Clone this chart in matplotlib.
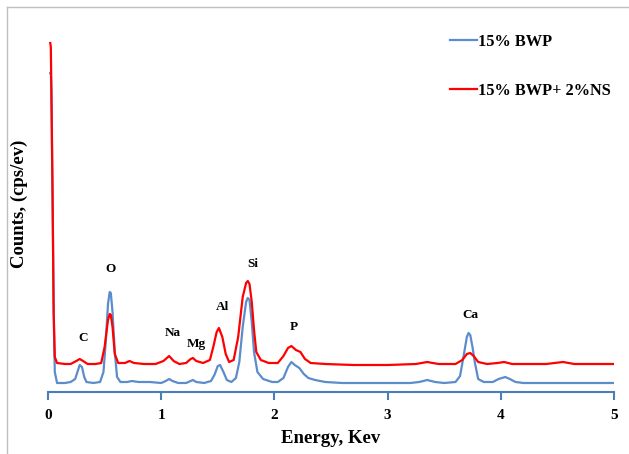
import matplotlib
matplotlib.use("Agg")
import matplotlib.pyplot as plt
from matplotlib.lines import Line2D

# EDS spectra (energy in keV, counts in arbitrary units)
blue_x = [0.02, 0.025, 0.03, 0.04, 0.05, 0.06, 0.08, 0.15, 0.2, 0.24, 0.26, 0.28, 0.30, 0.32, 0.34,
          0.4, 0.46, 0.49, 0.51, 0.53, 0.545, 0.555, 0.57, 0.59, 0.61, 0.64, 0.7, 0.74, 0.8, 0.9,
          1.0, 1.04, 1.07, 1.1, 1.15, 1.22, 1.26, 1.28, 1.31, 1.38, 1.44, 1.47, 1.50, 1.52, 1.55,
          1.58, 1.62, 1.66, 1.69, 1.72, 1.75, 1.765, 1.78, 1.80, 1.82, 1.85, 1.9, 1.98, 2.03, 2.08,
          2.12, 2.15, 2.18, 2.22, 2.26, 2.3, 2.36, 2.45, 2.6, 2.8, 3.0, 3.2, 3.28, 3.35, 3.42,
          3.5, 3.6, 3.64, 3.67, 3.70, 3.715, 3.73, 3.75, 3.77, 3.8, 3.85, 3.93, 3.98, 4.04, 4.08,
          4.13, 4.2, 4.5, 4.8, 5.0]
blue_y = [319, 319, 300, 200, 80, 20, 9, 9, 10, 13, 20, 27, 25, 15, 10,
          9, 10, 20, 50, 88, 100, 99, 80, 40, 15, 10, 10, 11, 10, 10,
          9, 11, 13, 11, 9, 9, 11, 12, 10, 9, 11, 17, 26, 27, 20,
          12, 10, 14, 30, 65, 90, 94, 92, 70, 40, 20, 13, 10, 10, 14,
          25, 30, 27, 24, 18, 14, 12, 10, 9, 9, 9, 9, 10, 12, 10,
          9, 10, 16, 35, 55, 59, 57, 45, 30, 13, 10, 10, 13, 15, 13,
          10, 9, 9, 9, 9]

red_x = [0.02, 0.025, 0.03, 0.04, 0.05, 0.06, 0.08, 0.15, 0.2, 0.25, 0.28, 0.31, 0.35, 0.42, 0.47,
         0.5, 0.53, 0.545, 0.555, 0.57, 0.59, 0.62, 0.68, 0.72, 0.76, 0.85, 0.95, 1.02, 1.07, 1.11,
         1.16, 1.22, 1.26, 1.28, 1.31, 1.37, 1.43, 1.46, 1.49, 1.51, 1.54, 1.57, 1.6, 1.64, 1.68,
         1.72, 1.75, 1.765, 1.78, 1.80, 1.82, 1.84, 1.88, 1.95, 2.03, 2.08, 2.12, 2.15, 2.19, 2.23,
         2.27, 2.32, 2.45, 2.7, 3.0, 3.25, 3.35, 3.45, 3.6, 3.66, 3.7, 3.73, 3.76, 3.8, 3.88,
         3.97, 4.03, 4.1, 4.4, 4.55, 4.65, 5.0]
red_y = [349, 345, 300, 200, 80, 35, 29, 28, 28, 31, 33, 31, 28, 28, 29,
         45, 72, 78, 77, 65, 38, 29, 29, 31, 29, 28, 28, 31, 36, 31,
         28, 29, 33, 34, 31, 29, 32, 45, 60, 64, 55, 38, 30, 32, 55,
         95, 109, 111, 108, 90, 62, 40, 32, 29, 29, 36, 44, 46, 42, 40,
         33, 29, 28, 27, 27, 28, 30, 28, 28, 32, 38, 39, 36, 30, 28,
         29, 30, 28, 28, 30, 28, 28]

elements = ["C", "O", "Na", "Mg", "Al", "Si", "P", "Ca"]
elem_x = [0.31, 0.55, 1.10, 1.31, 1.54, 1.81, 2.17, 3.73]
elem_y = [48, 117, 53, 42, 79, 122, 59, 71]

serif = "Liberation Serif"
axis_col = "#4a7ebb"

fig = plt.figure(figsize=(6.29, 4.54), dpi=100)
ax = fig.add_axes([48 / 629, 62 / 454, 566 / 629, 360 / 454])

ax.plot(blue_x, blue_y, color="#5b8ccc", lw=1.6, label="15% BWP", solid_joinstyle="round")
ax.plot(red_x, red_y, color="#ff0000", lw=1.6, label="15% BWP+ 2%NS", solid_joinstyle="round")

for name, ex, ey in zip(elements, elem_x, elem_y):
    ax.text(ex, ey, name, ha="center", va="bottom", fontsize=9.5,
            fontweight="bold", family=serif)

ax.set_xlim(0, 5)
ax.set_ylim(0, 360)
ax.set_xticks([0, 1, 2, 3, 4, 5])
ax.set_yticks([])
for s in ["top", "right", "left"]:
    ax.spines[s].set_visible(False)
ax.spines["bottom"].set_color(axis_col)
ax.spines["bottom"].set_linewidth(1.5)
ax.tick_params(axis="x", direction="out", length=6, width=1.5, color=axis_col, pad=6)
for lab in ax.get_xticklabels():
    lab.set_fontfamily(serif)
    lab.set_fontweight("bold")
    lab.set_fontsize(11)

ax.set_xlabel("Energy, Kev", fontsize=13.5, fontweight="bold", family=serif, labelpad=6)
ax.set_ylabel("Counts, (cps/ev)", fontsize=13.5, fontweight="bold", family=serif)
ax.yaxis.set_label_coords(-0.035, 0.522)

leg = ax.legend(loc="upper left", bbox_to_anchor=(0.685, 1.036), frameon=False,
                handlelength=1.6, handletextpad=0.1, labelspacing=2.0,
                prop={"family": serif, "weight": "bold", "size": 11.8})

# thin grey border of the chart area
fig.add_artist(Line2D([7 / 629, 7 / 629], [0, 1 - 7 / 454], color="#bfbfbf", lw=1))
fig.add_artist(Line2D([7 / 629, 1], [1 - 7 / 454, 1 - 7 / 454], color="#bfbfbf", lw=1))

fig.savefig("out.png", dpi=100)
